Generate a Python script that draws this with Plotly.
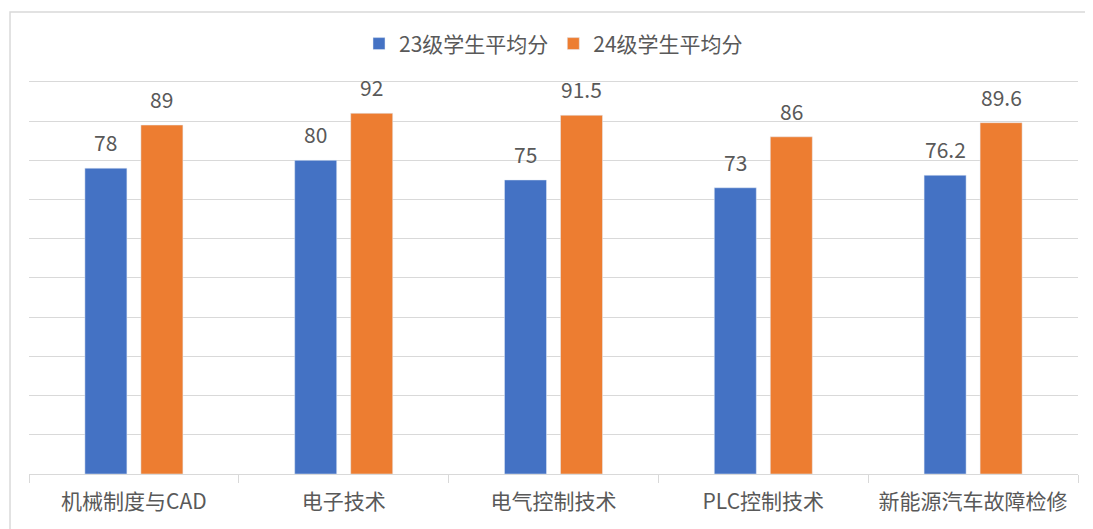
import plotly.graph_objects as go

categories = ["机械制度与CAD", "电子技术", "电气控制技术", "PLC控制技术", "新能源汽车故障检修"]
series_names = ["23级学生平均分", "24级学生平均分"]
scores_23 = [78, 80, 75, 73, 76.2]
scores_24 = [89, 92, 91.5, 86, 89.6]
label_23 = ["78", "80", "75", "73", "76.2"]
label_24 = ["89", "92", "91.5", "86", "89.6"]

FONT = "Noto Sans CJK SC, Microsoft YaHei, sans-serif"
TXT = "#595959"
BLUE = "#4472C4"
ORANGE = "#ED7D31"

fig = go.Figure()
fig.add_trace(go.Bar(x=categories, y=scores_23, name=series_names[0], marker_color=BLUE))
fig.add_trace(go.Bar(x=categories, y=scores_24, name=series_names[1], marker_color=ORANGE))

annotations = []
for cat, v, t in zip(categories, scores_23, label_23):
    annotations.append(dict(x=cat, y=v, text=t, xref="x", yref="y", showarrow=False,
                            xshift=-28, yshift=9, yanchor="bottom",
                            font=dict(family=FONT, size=21, color=TXT)))
for cat, v, t in zip(categories, scores_24, label_24):
    annotations.append(dict(x=cat, y=v, text=t, xref="x", yref="y", showarrow=False,
                            xshift=28, yshift=9, yanchor="bottom",
                            font=dict(family=FONT, size=21, color=TXT)))

fig.update_layout(
    width=1085, height=521,
    margin=dict(l=21, r=15, t=70, b=55),
    paper_bgcolor="white", plot_bgcolor="white",
    barmode="group", bargap=0.466, bargroupgap=0.25,
    font=dict(family=FONT, color=TXT),
    showlegend=True,
    legend=dict(orientation="h", x=0.5, xanchor="center", y=1.086, yanchor="middle",
                font=dict(family=FONT, size=21, color=TXT), itemwidth=30,
                traceorder="normal", itemclick=False),
    xaxis=dict(showline=True, linecolor="#D9D9D9", linewidth=1,
               ticks="outside", tickson="boundaries", ticklen=8, tickcolor="#D9D9D9",
               ticklabelstandoff=9,
               tickfont=dict(family=FONT, size=21, color=TXT), showgrid=False),
    yaxis=dict(range=[0, 101], tick0=0, dtick=10, showgrid=True, gridcolor="#D9D9D9", gridwidth=1,
               showticklabels=False, zeroline=False, showline=False, ticks=""),
    annotations=annotations,
    shapes=[dict(type="rect", xref="paper", yref="paper",
                 x0=-0.0181, x1=1.03, y0=-0.2, y1=1.1667,
                 line=dict(color="#D9D9D9", width=1.5), fillcolor="rgba(0,0,0,0)", layer="below")],
)

fig.write_html("out.html")
